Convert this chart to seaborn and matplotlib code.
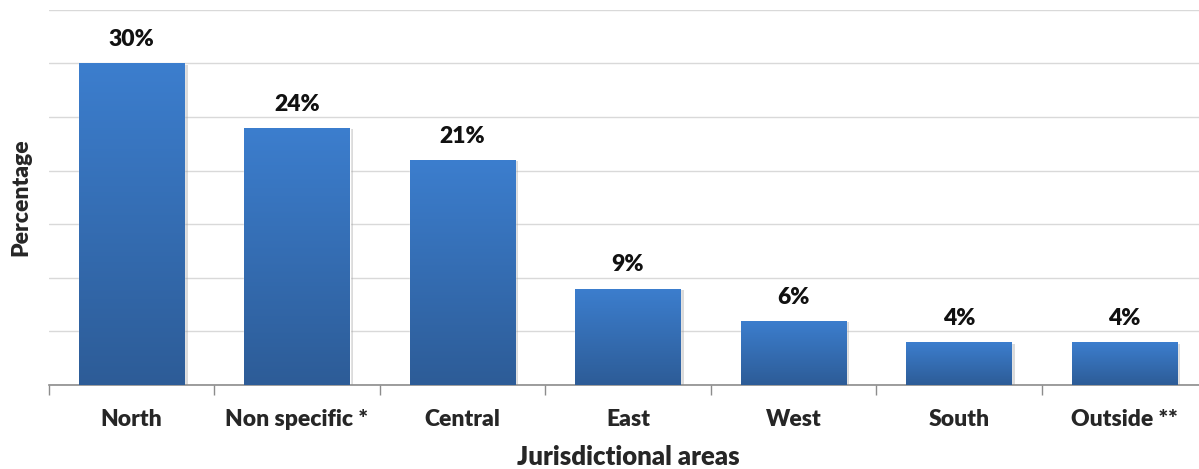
import numpy as np
import matplotlib
matplotlib.use("Agg")
import matplotlib.pyplot as plt
import matplotlib.patheffects as pe
from matplotlib.colors import LinearSegmentedColormap
import seaborn as sns

# datos del gráfico
areas = ["North", "Non specific *", "Central", "East", "West", "South", "Outside **"]
values = [30, 24, 21, 9, 6, 4, 4]
labels = ["30%", "24%", "21%", "9%", "6%", "4%", "4%"]

sns.set_style("white")
plt.rcParams['font.family'] = ['Lato', 'DejaVu Sans']
plt.rcParams['font.weight'] = 'heavy'

fig = plt.figure(figsize=(11.99, 4.69), dpi=100)
ax = fig.add_axes([0.0407, 0.179, 0.966, 0.8])

sns.barplot(x=areas, y=values, color="#3B7DCC", width=0.635, ax=ax, zorder=2)

# degradado en cada barra (claro arriba, oscuro abajo)
cmap = LinearSegmentedColormap.from_list("grad", ["#2D5C97", "#3C7ECE"])
grad = np.linspace(0, 1, 256).reshape(-1, 1)
for bar in ax.patches:
    x0, y0 = bar.get_x(), bar.get_y()
    w, h = bar.get_width(), bar.get_height()
    bar.set_path_effects([pe.SimplePatchShadow(offset=(2.5, -1), shadow_rgbFace="#9a9a9a", alpha=0.35),
                          pe.Normal()])
    im = ax.imshow(grad, cmap=cmap, origin="lower", aspect="auto",
                   extent=[x0, x0 + w, y0, y0 + h], zorder=3)
    im.set_clip_path(bar)

for i, (v, lab) in enumerate(zip(values, labels)):
    ax.annotate(lab, (i, v), xytext=(0, 9.5), textcoords="offset points",
                ha="center", va="bottom", fontsize=16.5, fontweight="heavy", color="#111111")

ax.set_xlim(-0.5, 6.5)
ax.set_ylim(0, 35)
ax.set_yticks(np.arange(0, 36, 5))
ax.set_yticklabels([])
ax.tick_params(axis="y", length=0)
ax.yaxis.grid(True, color="#D9D9D9", linewidth=1)
ax.set_axisbelow(True)

ax.set_xticks(np.arange(-0.5, 7, 1), minor=True)
ax.tick_params(axis="x", which="minor", bottom=True, length=7, width=1, color="#8C8C8C", direction="out")
ax.tick_params(axis="x", which="major", length=0, pad=17, labelsize=16.5)
for t in ax.get_xticklabels():
    t.set_fontweight("heavy")

for s in ["left", "top", "right"]:
    ax.spines[s].set_visible(False)
ax.spines["bottom"].set_color("#8C8C8C")
ax.spines["bottom"].set_linewidth(1.2)

ax.set_xlabel("Jurisdictional areas", fontsize=18.5, fontweight="heavy", labelpad=11)
ax.set_ylabel("Percentage", fontsize=16.5, fontweight="heavy", labelpad=9)

fig.savefig("out.png", dpi=100)
